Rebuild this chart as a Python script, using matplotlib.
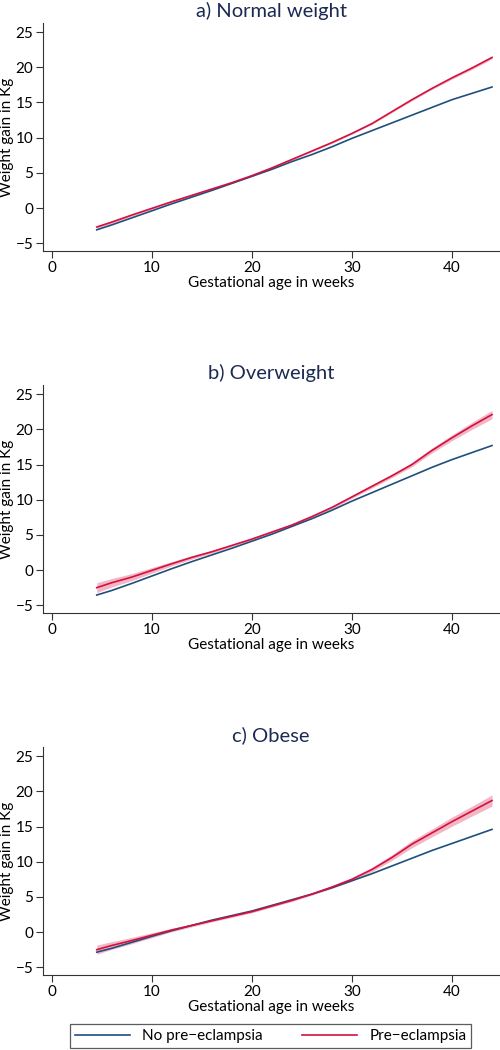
import numpy as np
import matplotlib
matplotlib.use('Agg')
import matplotlib.pyplot as plt
from matplotlib.lines import Line2D

plt.rcParams['font.family'] = ['Lato', 'DejaVu Sans']

# gestational age (weeks) at which curves were read
weeks = [4.5, 6, 8, 10, 12, 14, 16, 18, 20, 22, 24, 26, 28, 30, 32, 34, 36, 38, 40, 42, 44]

titles = ['a) Normal weight', 'b) Overweight', 'c) Obese']

no_pe = [
    [-3.1, -2.4, -1.4, -0.4, 0.6, 1.55, 2.5, 3.5, 4.5, 5.5, 6.6, 7.6, 8.7, 9.9,
     11.0, 12.1, 13.2, 14.3, 15.4, 16.3, 17.2],
    [-3.55, -2.9, -1.9, -0.85, 0.2, 1.2, 2.15, 3.1, 4.1, 5.1, 6.2, 7.3, 8.5, 9.8,
     11.0, 12.2, 13.4, 14.6, 15.7, 16.7, 17.7],
    [-2.85, -2.3, -1.45, -0.6, 0.2, 0.95, 1.7, 2.35, 3.0, 3.8, 4.6, 5.4, 6.3, 7.3,
     8.3, 9.4, 10.5, 11.6, 12.6, 13.6, 14.6],
]
pe = [
    [-2.7, -2.0, -1.0, -0.05, 0.9, 1.8, 2.7, 3.6, 4.6, 5.7, 6.9, 8.1, 9.3, 10.6,
     12.0, 13.7, 15.4, 17.0, 18.5, 19.9, 21.4],
    [-2.5, -1.8, -1.0, -0.05, 0.9, 1.8, 2.6, 3.5, 4.4, 5.4, 6.4, 7.6, 8.9, 10.4,
     11.9, 13.4, 15.0, 17.0, 18.8, 20.5, 22.1],
    [-2.5, -1.9, -1.2, -0.45, 0.3, 0.95, 1.6, 2.25, 2.9, 3.7, 4.5, 5.4, 6.4, 7.5,
     8.9, 10.6, 12.5, 14.1, 15.7, 17.2, 18.7],
]
# half width of the 95% CI around the pre-eclampsia curve
pe_ci = [
    [0.2, 0.18, 0.15, 0.12, 0.1, 0.1, 0.1, 0.1, 0.1, 0.1, 0.1, 0.1, 0.1, 0.1,
     0.12, 0.12, 0.15, 0.15, 0.18, 0.2, 0.2],
    [0.7, 0.6, 0.5, 0.4, 0.3, 0.25, 0.2, 0.15, 0.15, 0.15, 0.15, 0.15, 0.2, 0.2,
     0.25, 0.25, 0.3, 0.35, 0.4, 0.5, 0.6],
    [0.65, 0.55, 0.45, 0.35, 0.25, 0.2, 0.15, 0.15, 0.15, 0.15, 0.15, 0.15, 0.2, 0.25,
     0.3, 0.4, 0.5, 0.55, 0.65, 0.7, 0.8],
]

blue = '#1f4f7d'
red = '#d4103f'
title_col = '#1c2a52'

fig = plt.figure(figsize=(5, 10.5), dpi=100)
bottoms = [0.761, 0.4162, 0.0714]

for i in range(3):
    ax = fig.add_axes([0.086, bottoms[i], 0.912, 0.2171])
    x = np.array(weeks)
    y2 = np.array(pe[i])
    ci = np.array(pe_ci[i])
    ax.fill_between(x, y2 - ci, y2 + ci, color=red, alpha=0.3, linewidth=0)
    ax.plot(x, no_pe[i], color=blue, lw=1.2)
    ax.plot(x, y2, color=red, lw=1.2)

    ax.set_xlim(-0.87, 44.7)
    ax.set_ylim(-6.1, 26.3)
    ax.set_xticks([0, 10, 20, 30, 40])
    ax.set_yticks([-5, 0, 5, 10, 15, 20, 25])
    ax.set_yticklabels(['\u22125', '0', '5', '10', '15', '20', '25'])
    for s in ['top', 'right']:
        ax.spines[s].set_visible(False)
    ax.spines['left'].set_color('#333333')
    ax.spines['bottom'].set_color('#333333')
    ax.tick_params(labelsize=11, length=5, width=0.8, color='#333333', pad=2)
    ax.set_xlabel('Gestational age in weeks', fontsize=11, labelpad=1)
    ax.set_ylabel('Weight gain in Kg', fontsize=11)
    ax.yaxis.set_label_coords(-0.064, 0.5)
    ax.set_title(titles[i], fontsize=14.5, color=title_col, pad=4)

handles = [Line2D([], [], color=blue, lw=1.2), Line2D([], [], color=red, lw=1.2)]
leg = fig.legend(handles, ['No pre\u2212eclampsia', 'Pre\u2212eclampsia'],
                 loc='center', bbox_to_anchor=(0.541, 0.0133), ncol=2,
                 fontsize=11, frameon=True, fancybox=False, handlelength=3.6,
                 columnspacing=2.6, borderpad=0.3, handletextpad=0.8,
                 borderaxespad=0)
leg.get_frame().set_edgecolor('#333333')
leg.get_frame().set_linewidth(0.9)

fig.savefig('out.png', dpi=100, facecolor='white')
